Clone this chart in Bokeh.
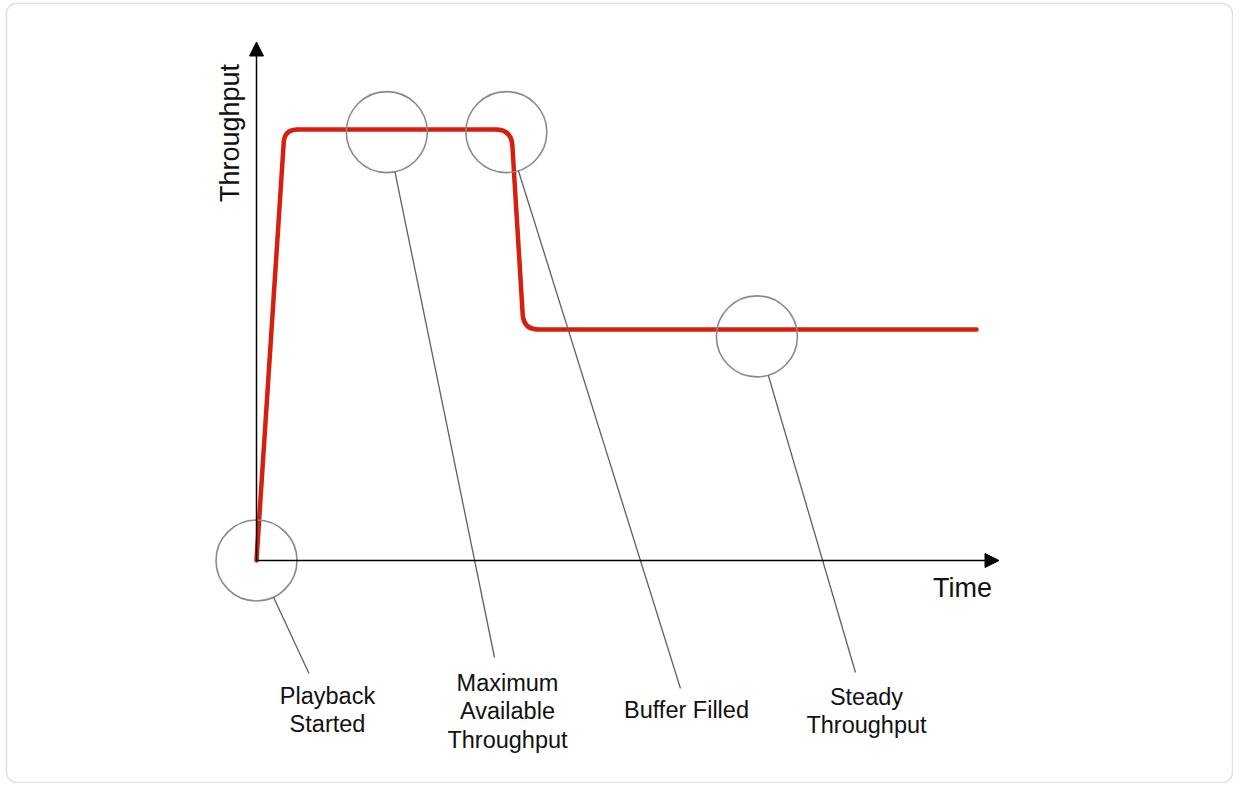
import math
from bokeh.plotting import figure
from bokeh.models import Range1d, Arrow, NormalHead, BoxAnnotation
from bokeh.core.properties import value
from bokeh.embed import file_html
from bokeh.resources import INLINE

# ---------------- data ----------------
time = [0, 3.9, 35.4, 37.1, 100]
throughput = [0, 100, 100, 53.6, 53.6]

event_labels = ["Playback\nStarted", "Maximum\nAvailable\nThroughput", "Buffer Filled", "Steady\nThroughput"]
event_time = [0, 18.1, 34.7, 69.5]
event_throughput = [0, 99.4, 99.4, 52.0]

x_label = "Time"
y_label = "Throughput"

# ---------------- layout (pixels, relative to the canvas) ----------------
W, H = 1233, 783
ORIGIN_PX = (256, 560)        # canvas position of (0, 0)
SX, SY = 7.2, 4.31            # pixels per data unit
RED = "#D5200F"
FONT = value("Liberation Sans")
TEXT_SHIFT = 9                # baseline correction

def px_to_data(px, py):
    return (px - ORIGIN_PX[0]) / SX, (ORIGIN_PX[1] - py) / SY

x0d, y1d = px_to_data(0, 0)
x1d, y0d = px_to_data(W, H)

p = figure(width=W, height=H, x_range=Range1d(x0d, x1d), y_range=Range1d(y0d, y1d),
           output_backend="svg", toolbar_location=None, min_border=0)
p.axis.visible = False
p.grid.visible = False
p.outline_line_color = None
p.background_fill_color = "white"
p.border_fill_color = "white"

# rounded border
bx0, by1 = px_to_data(6, 3)
bx1, by0 = px_to_data(W - 1, H - 1)
p.add_layout(BoxAnnotation(left=bx0, right=bx1, bottom=by0, top=by1, fill_color=None,
                           line_color="#9a9a9a", line_width=1.5, border_radius=10, level="underlay"))

# axes arrows
ytip = px_to_data(256, 41.5)[1]
xtip = px_to_data(998.5, 560)[0]
p.add_layout(Arrow(end=NormalHead(size=14, fill_color="black", line_color="black", line_width=1),
                   x_start=0, y_start=0, x_end=0, y_end=ytip, line_color="black", line_width=1.5))
p.add_layout(Arrow(end=NormalHead(size=14, fill_color="black", line_color="black", line_width=1),
                   x_start=0, y_start=0, x_end=xtip, y_end=0, line_color="black", line_width=1.5))

# axis labels
tx, ty = px_to_data(962, 596 - TEXT_SHIFT)
p.text(x=[tx], y=[ty], text=[x_label], text_font=FONT, text_font_size=value("27px"),
       text_align="center", text_baseline="alphabetic", text_color="#111111")
rx, ry = px_to_data(237 - 8, 132.5)
p.text(x=[rx], y=[ry], text=[y_label], text_font=FONT, text_font_size=value("27px"),
       text_align="center", text_baseline="alphabetic", angle=math.pi / 2, text_color="#111111")

# red throughput line with rounded corners
radii = [13, 16, 15]
pts = list(zip(time, throughput))

def corner(a, c, b, r):
    ux, uy = (c[0] - a[0]) * SX, (c[1] - a[1]) * SY
    l1 = math.hypot(ux, uy)
    vx, vy = (b[0] - c[0]) * SX, (b[1] - c[1]) * SY
    l2 = math.hypot(vx, vy)
    A = (c[0] - ux / l1 * r / SX, c[1] - uy / l1 * r / SY)
    B = (c[0] + vx / l2 * r / SX, c[1] + vy / l2 * r / SY)
    return A, B

xs, ys = [], []
qx0, qy0, qx1, qy1, qcx, qcy = [], [], [], [], [], []
start = pts[0]
for i in range(1, len(pts) - 1):
    A, B = corner(pts[i - 1], pts[i], pts[i + 1], radii[i - 1])
    xs.append([start[0], A[0]]); ys.append([start[1], A[1]])
    qx0.append(A[0]); qy0.append(A[1]); qx1.append(B[0]); qy1.append(B[1])
    qcx.append(pts[i][0]); qcy.append(pts[i][1])
    start = B
xs.append([start[0], pts[-1][0]]); ys.append([start[1], pts[-1][1]])

p.multi_line(xs, ys, line_color=RED, line_width=4.5, line_cap="round")
p.quadratic(x0=qx0, y0=qy0, x1=qx1, y1=qy1, cx=qcx, cy=qcy, line_color=RED, line_width=4.5)

# event circles
CIRCLE_R = 40.5
p.scatter(x=event_time, y=event_throughput, marker="circle", size=2 * CIRCLE_R,
          fill_color=None, line_color="#8a8a8a", line_width=1.6)

# leader lines and labels
leader_end_px = [(308.5, 673), (494, 657), (680, 688), (855, 672)]
label_pos_px = [(327, 704), (507, 691), (686, 718.3), (866, 705)]
LINE_STEP = 28.5

lx, ly = [], []
for (et, ev), (ex, ey) in zip(zip(event_time, event_throughput), leader_end_px):
    cx = ORIGIN_PX[0] + et * SX
    cy = ORIGIN_PX[1] - ev * SY
    dx, dy = ex - cx, ey - cy
    d = math.hypot(dx, dy)
    sx_, sy_ = cx + dx / d * CIRCLE_R, cy + dy / d * CIRCLE_R
    a = px_to_data(sx_, sy_)
    b = px_to_data(ex, ey)
    lx.append([a[0], b[0]]); ly.append([a[1], b[1]])
p.multi_line(lx, ly, line_color="#606060", line_width=1.3)

tx_, ty_, tt_ = [], [], []
for lab, (px_, py_) in zip(event_labels, label_pos_px):
    for k, line in enumerate(lab.split("\n")):
        dxy = px_to_data(px_, py_ + k * LINE_STEP - TEXT_SHIFT)
        tx_.append(dxy[0]); ty_.append(dxy[1]); tt_.append(line)
p.text(x=tx_, y=ty_, text=tt_, text_font=FONT, text_font_size=value("23.5px"),
       text_align="center", text_baseline="alphabetic", text_color="#111111")

open("out.html", "w").write(file_html(p, INLINE))
